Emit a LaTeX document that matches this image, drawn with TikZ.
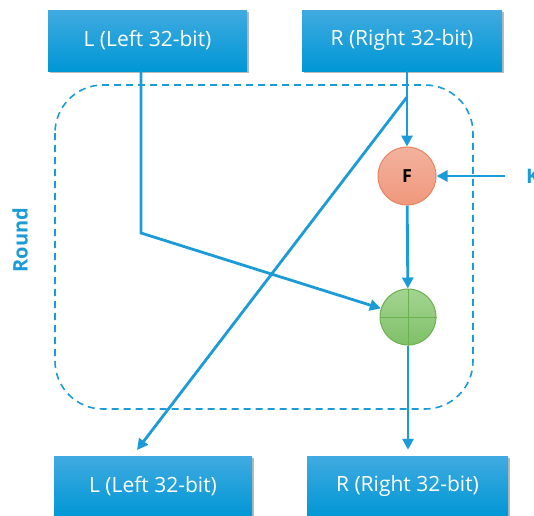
\documentclass[tikz,border=0pt]{standalone}
\usepackage{fontspec}
\setmainfont{Open Sans}
\usetikzlibrary{arrows.meta,shadows,calc}
\definecolor{lineblue}{HTML}{1B9BD7}
\definecolor{boxtop}{HTML}{40AAE0}
\definecolor{boxbot}{HTML}{0097D5}
\definecolor{fTop}{HTML}{F3B29E}
\definecolor{fBot}{HTML}{EF987C}
\definecolor{fBorder}{HTML}{E8835F}
\definecolor{gTop}{HTML}{A3D492}
\definecolor{gBot}{HTML}{80C069}
\definecolor{gBorder}{HTML}{6BB14F}
\tikzset{
  bluebox/.style={rectangle, top color=boxtop, bottom color=boxbot, draw=none,
    minimum height=61pt, inner sep=0pt, text=white, font=\fontsize{21}{24}\selectfont,
    drop shadow={shadow xshift=2pt, shadow yshift=-2pt, fill=black!45, opacity=0.6}},
  arr/.style={draw=lineblue, line width=2.8pt, -{Triangle[length=11pt,width=11pt]}},
  fcirc/.style={circle, minimum size=58pt, inner sep=0pt, top color=fTop, bottom color=fBot,
    draw=fBorder, line width=1pt, font=\bfseries\fontsize{18}{20}\selectfont},
  gcirc/.style={circle, minimum size=56pt, inner sep=0pt, top color=gTop, bottom color=gBot,
    draw=gBorder, line width=1pt},
  bluetext/.style={text=lineblue, font=\bfseries\fontsize{20}{24}\selectfont},
}
\begin{document}
\begin{tikzpicture}[x=1pt,y=-1pt]
\useasboundingbox (0,0) rectangle (534,515);
% round frame
\draw[lineblue, line width=1.6pt, dash pattern=on 7pt off 5pt, rounded corners=48pt] (55,85) rectangle (473,409);
\node[bluetext, rotate=90] (round) at (20,240) {Round};
% boxes
\node[bluebox, minimum width=199pt] (Lt) at (147.5,40.5) {L (Left 32-bit)};
\node[bluebox, minimum width=200pt] (Rt) at (402,40.5) {R (Right 32-bit)};
\node[bluebox, minimum width=198pt] (Lb) at (153,486.5) {L (Left 32-bit)};
\node[bluebox, minimum width=201pt] (Rb) at (407.5,486.5) {R (Right 32-bit)};
% circles
\node[fcirc] (F) at (407,176) {F};
\node[gcirc] (X) at (408,317) {};
\draw[gBorder, line width=1pt] (X.north) -- (X.south) (X.west) -- (X.east);
% K
\node[bluetext, anchor=west, inner sep=0pt] (K) at (526,176) {K};
\coordinate (ktail) at (505,176);
% coordinates
\coordinate (ltout) at (141,71);
\coordinate (lbend) at (141,233);
\coordinate (split) at (407,97);
\coordinate (lbin) at (137,450);
% connectors
\draw[arr] (Rt.south -| F) -- (F);
\draw[arr] (split) -- (lbin);
\draw[arr] (ltout) -- (lbend) -- (X);
\draw[arr] (F) -- (X);
\draw[arr, shorten >=6pt] (X) -- (X |- Rb.north);
\draw[arr] (ktail) -- (F);
\end{tikzpicture}
\end{document}
